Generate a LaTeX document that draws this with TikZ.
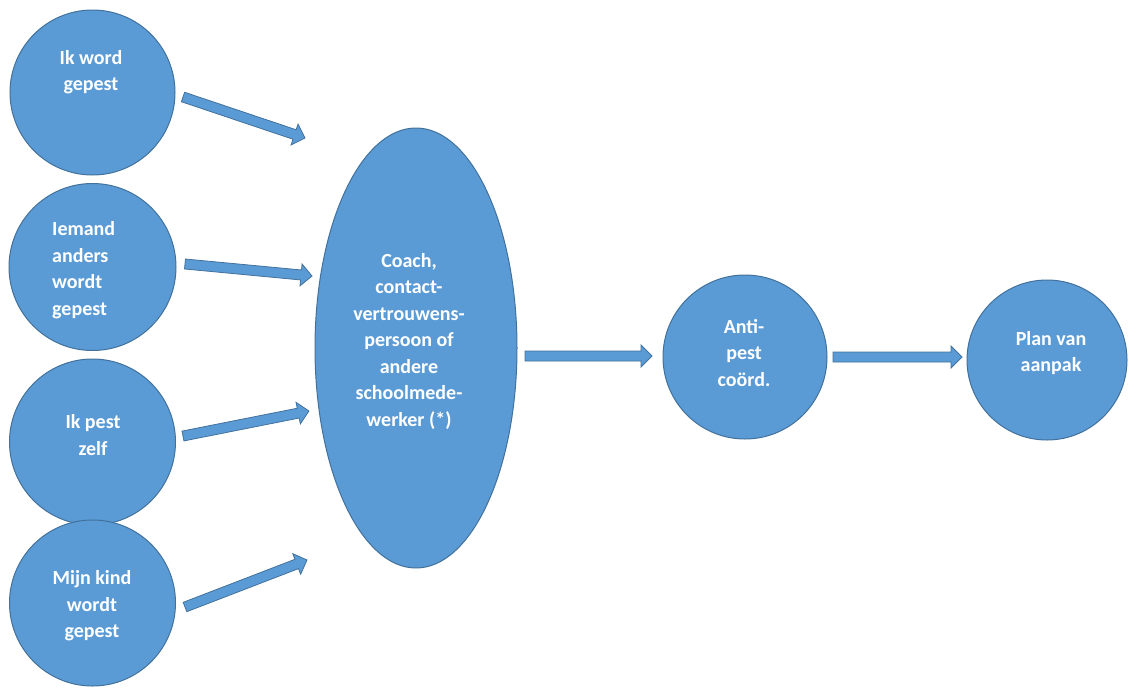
\documentclass[tikz,border=0pt]{standalone}
\usepackage{fontspec}
\setmainfont{Carlito}
\usetikzlibrary{shapes.geometric,calc}
\definecolor{bfill}{HTML}{5B9BD5}
\definecolor{bline}{HTML}{41719C}
\tikzset{
  bubble/.style={circle, fill=bfill, draw=bline, line width=1pt, inner sep=0pt},
  oval/.style={ellipse, fill=bfill, draw=bline, line width=1pt, inner sep=0pt},
  txt/.style={text=white, font=\fontsize{20}{26.5}\selectfont\bfseries, align=center, inner sep=0pt},
  barrow/.style={fill=bfill, draw=bline, line width=0.8pt, line join=miter}
}
\newcommand\blockarrow[2]{%
  \path[barrow] let \p1=(#1), \p2=(#2), \n1={atan2(\y2-\y1,\x2-\x1)}, \n2={veclen(\x2-\x1,\y2-\y1)} in
    [shift={(\p1)}, rotate=\n1]
    (0,-5) -- ({\n2-11},-5) -- ({\n2-11},-11) -- ({\n2},0) -- ({\n2-11},11) -- ({\n2-11},5) -- (0,5) -- cycle;}
\begin{document}
\begin{tikzpicture}[x=1pt,y=1pt]
\useasboundingbox (0,0) rectangle (1128,-691);
% shapes
\node[bubble, minimum size=165pt] (c1) at (92.5,-92.5) {};
\node[bubble, minimum size=167pt] (c2) at (92.5,-267) {};
\node[bubble, minimum size=166pt] (c3) at (92.5,-442) {};
\node[bubble, minimum size=166pt] (c4) at (92.5,-603) {};
\node[oval, minimum width=202pt, minimum height=440pt] (coach) at (416,-348) {};
\node[bubble, minimum size=164pt] (anti) at (745,-357) {};
\node[bubble, minimum size=160pt] (plan) at (1047,-360) {};
% texts
\node[txt] (t1) at (91,-72) {Ik word\\gepest};
\node[txt, align=left, anchor=west] (t2) at (52,-270) {Iemand\\anders\\wordt\\gepest};
\node[txt] (t3) at (93,-435) {Ik pest\\zelf};
\node[txt] (t4) at (92,-606) {Mijn kind\\wordt\\gepest};
\node[txt] (tc) at (409,-341) {Coach,\\contact-\\vertrouwens-\\persoon of\\andere\\schoolmede-\\werker (*)};
\node[txt] (ta) at (744,-353) {Anti-\\pest\\coörd.};
\node[txt] (tp) at (1051,-353) {Plan van\\aanpak};
% arrow ends
\coordinate (a1s) at (183,-97);  \coordinate (a1e) at (305,-138);
\coordinate (a2s) at (185,-264); \coordinate (a2e) at (312,-276);
\coordinate (a3s) at (183,-436); \coordinate (a3e) at (309,-411);
\coordinate (a4s) at (185,-607); \coordinate (a4e) at (307,-560);
\coordinate (a5s) at (525,-356); \coordinate (a5e) at (652,-356);
\coordinate (a6s) at (833,-357); \coordinate (a6e) at (962,-357);
\blockarrow{a1s}{a1e}
\blockarrow{a2s}{a2e}
\blockarrow{a3s}{a3e}
\blockarrow{a4s}{a4e}
\blockarrow{a5s}{a5e}
\blockarrow{a6s}{a6e}
\end{tikzpicture}
\end{document}
